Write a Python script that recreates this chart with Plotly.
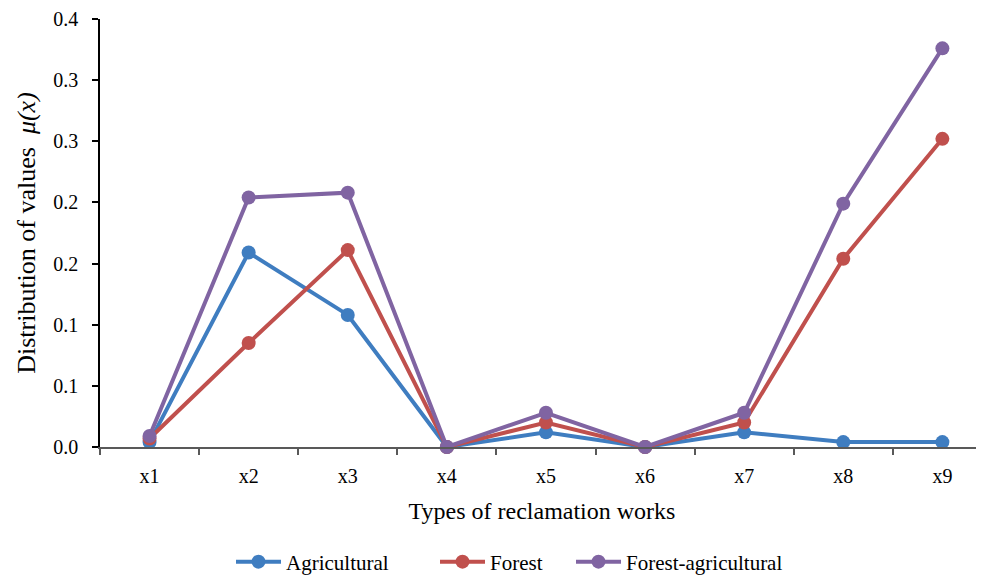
import plotly.graph_objects as go

categories = ["x1", "x2", "x3", "x4", "x5", "x6", "x7", "x8", "x9"]
agricultural = [0.004, 0.159, 0.108, 0.0, 0.012, 0.0, 0.012, 0.004, 0.004]
forest = [0.007, 0.085, 0.161, 0.0, 0.020, 0.0, 0.020, 0.154, 0.252]
forest_agri = [0.009, 0.204, 0.208, 0.0, 0.028, 0.0, 0.028, 0.199, 0.326]

y_tickvals = [0, 0.05, 0.1, 0.15, 0.2, 0.25, 0.3, 0.35]
y_ticktext = ["0.0", "0.1", "0.1", "0.2", "0.2", "0.3", "0.3", "0.4"]

series = [
    ("Agricultural", agricultural, "#3F7DC0", "legend"),
    ("Forest", forest, "#C0504D", "legend2"),
    ("Forest-agricultural", forest_agri, "#8064A2", "legend3"),
]

FF = "Liberation Serif, Times New Roman, serif"
W, H = 976, 568  # page has 8px body margin

fig = go.Figure()
for name, vals, color, lg in series:
    fig.add_trace(go.Scatter(
        x=categories, y=vals, name=name, mode="lines+markers",
        line=dict(color=color, width=4),
        marker=dict(color=color, size=14),
        cliponaxis=False, legend=lg,
    ))

def leg(xpx):
    return dict(orientation="h", xref="container", x=(xpx - 8) / W, xanchor="left",
                yref="container", y=14 / H, yanchor="middle",
                font=dict(size=21, family=FF, color="black"), itemwidth=45,
                bgcolor="rgba(0,0,0,0)")

fig.update_layout(
    width=W, height=H,
    margin=dict(l=92, r=0, t=11, b=129),
    paper_bgcolor="white", plot_bgcolor="white",
    font=dict(family=FF, size=20, color="black"),
    showlegend=True,
    legend=leg(231),
    legend2=leg(435),
    legend3=leg(571),
    xaxis=dict(
        type="category", range=[-0.5, 8.42],
        showline=True, linecolor="#595959", linewidth=1.5,
        ticks="outside", ticklen=6, tickcolor="#595959", tickwidth=1.5,
        tickson="boundaries", showgrid=False, zeroline=False,
        tickfont=dict(size=20, family=FF, color="black"), ticklabelstandoff=10,
        title=dict(text="Types of reclamation works",
                   font=dict(size=24, family=FF, color="black"), standoff=16),
    ),
    yaxis=dict(
        range=[0, 0.35], tickvals=y_tickvals, ticktext=y_ticktext,
        showline=True, linecolor="black", linewidth=1.5,
        ticks="outside", ticklen=6, tickcolor="black", tickwidth=1.5,
        showgrid=False, zeroline=False,
        tickfont=dict(size=20, family=FF, color="black"),
        ticklabelstandoff=10,
        title=dict(text="Distribution of values  <i>μ(x)</i>",
                   font=dict(size=26, family=FF, color="black"), standoff=10),
    ),
    xaxis2=dict(
        overlaying="x", anchor="y", side="bottom", range=[-0.5, 8.42],
        tickvals=[0.5, 1.5, 2.5, 3.5, 4.5, 5.5, 6.5, 7.5],
        ticks="inside", ticklen=6, tickcolor="#595959", tickwidth=1.5,
        showticklabels=False, showgrid=False, zeroline=False, showline=False,
    ),
    yaxis2=dict(
        overlaying="y", anchor="x", side="left", range=[0, 0.35],
        tickvals=y_tickvals,
        ticks="inside", ticklen=6, tickcolor="black", tickwidth=1.5,
        showticklabels=False, showgrid=False, zeroline=False, showline=False,
    ),
)

fig.write_html("out.html")
